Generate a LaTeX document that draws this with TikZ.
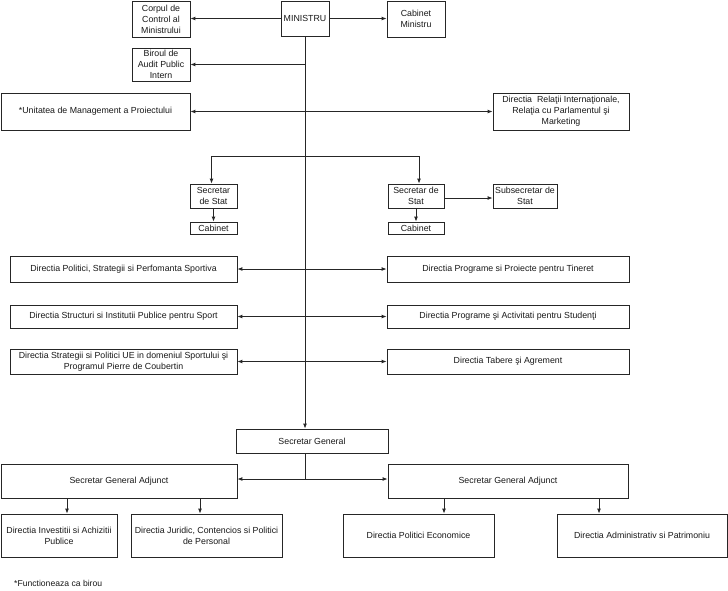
\documentclass[tikz,border=0pt]{standalone}
\usepackage{fontspec}
\setmainfont{Liberation Sans}
\usetikzlibrary{arrows.meta}
\begin{document}
\begin{tikzpicture}[x=1pt,y=-1pt,
  box/.style={draw=black!85, line width=0.8pt, align=center, inner sep=0pt,
    font=\fontsize{8.8}{11}\selectfont, text=black!90},
  conn/.style={draw=black!85, line width=0.9pt},
  arr/.style={conn, -{Latex[length=5pt,width=4pt]}},
  darr/.style={conn, {Latex[length=5pt,width=4pt]}-{Latex[length=5pt,width=4pt]}}]
\useasboundingbox (0,0) rectangle (728,590);
\fill[white] (0,0) rectangle (728,590);
% top row
\node[box, minimum width=48, minimum height=35] (min) at (305,18.5) {MINISTRU};
\node[box, minimum width=58, minimum height=36] (corp) at (161,19) {Corpul de\\Control al\\Ministrului};
\node[box, minimum width=58, minimum height=36] (cabm) at (416,19) {Cabinet\\Ministru};
\node[box, minimum width=58, minimum height=33] (audit) at (161,64.5) {Biroul de\\Audit Public\\Intern};
\node[box, minimum width=189, minimum height=37] (unit) at (95.5,111.5) {*Unitatea de Management a Proiectului};
\node[box, minimum width=136, minimum height=37] (drel) at (561,111.5) {Directia\ \ Relaţii Internaţionale,\\Relaţia cu Parlamentul şi\\Marketing};
% secretari de stat
\node[box, minimum width=47, minimum height=24] (ss1) at (213.5,196) {Secretar\\de Stat};
\node[box, minimum width=47, minimum height=12] (cab1) at (213.5,228) {Cabinet};
\node[box, minimum width=56, minimum height=24] (ss2) at (416,196) {Secretar de\\Stat};
\node[box, minimum width=56, minimum height=12] (cab2) at (416,228) {Cabinet};
\node[box, minimum width=64, minimum height=24] (sub) at (525,196) {Subsecretar de\\Stat};
% directii
\node[box, minimum width=227, minimum height=26] (dl1) at (123.5,269) {Directia Politici, Strategii si Perfomanta Sportiva};
\node[box, minimum width=227, minimum height=23] (dl2) at (123.5,316.5) {Directia Structuri si Institutii Publice pentru Sport};
\node[box, minimum width=227, minimum height=25] (dl3) at (123.5,361.5) {Directia Strategii si Politici UE in domeniul Sportului şi\\Programul Pierre de Coubertin};
\node[box, minimum width=242, minimum height=26] (dr1) at (508,269) {Directia Programe si Proiecte pentru Tineret};
\node[box, minimum width=242, minimum height=23] (dr2) at (508,316.5) {Directia Programe şi Activitati pentru Studenţi};
\node[box, minimum width=242, minimum height=25] (dr3) at (508,361.5) {Directia Tabere şi Agrement};
% secretar general
\node[box, minimum width=152, minimum height=24] (sg) at (312,441) {Secretar General};
\node[box, minimum width=236, minimum height=34] (sga1) at (119,481) {Secretar General Adjunct};
\node[box, minimum width=240, minimum height=34] (sga2) at (508,481) {Secretar General Adjunct};
\node[box, minimum width=116, minimum height=43] (dinv) at (59,535.5) {Directia Investitii si Achizitii\\Publice};
\node[box, minimum width=151, minimum height=43] (djur) at (206.5,535.5) {Directia Juridic, Contencios si Politici\\de Personal};
\node[box, minimum width=151, minimum height=43] (dpe) at (418.5,535.5) {Directia Politici Economice};
\node[box, minimum width=170, minimum height=43] (dadm) at (642,535.5) {Directia Administrativ si Patrimoniu};
\node[anchor=west, inner sep=0pt, font=\fontsize{8.6}{10}\selectfont, text=black!90] (note) at (14,583) {*Functioneaza ca birou};
% connectors
\draw[arr] (min.west) -- (min.west -| corp.east);
\draw[arr] (min.east) -- (min.east -| cabm.west);
\draw[arr] (min.south) -- (min.south |- sg.north);
\draw[arr] (min.south |- audit.east) -- (audit.east);
\draw[darr] (unit.east) -- (drel.west);
\coordinate (js) at (min.south |- 0,156);
\draw[arr] (js) -| ([xshift=-2]ss1.north);
\draw[arr] (js) -| ([xshift=3]ss2.north);
\draw[arr] (ss1.south) -- (cab1.north);
\draw[arr] (ss2.south) -- (cab2.north);
\draw[arr] ([yshift=-2]ss2.east) -- ([yshift=-2]ss2.east -| sub.west);
\draw[darr] (dl1.east) -- (dr1.west);
\draw[darr] (dl2.east) -- (dr2.west);
\draw[darr] (dl3.east) -- (dr3.west);
\coordinate (jsg) at (min.south |- 0,479);
\draw[conn] (min.south |- sg.south) -- (jsg);
\draw[arr] (jsg) -- (jsg -| sga1.east);
\draw[arr] (jsg) -- (jsg -| sga2.west);
\draw[arr] ([xshift=8]dinv.north |- sga1.south) -- ([xshift=8]dinv.north);
\draw[arr] ([xshift=-6.5]djur.north |- sga1.south) -- ([xshift=-6.5]djur.north);
\draw[arr] ([xshift=25.5]dpe.north |- sga2.south) -- ([xshift=25.5]dpe.north);
\draw[arr] ([xshift=-43]dadm.north |- sga2.south) -- ([xshift=-43]dadm.north);
\end{tikzpicture}
\end{document}
